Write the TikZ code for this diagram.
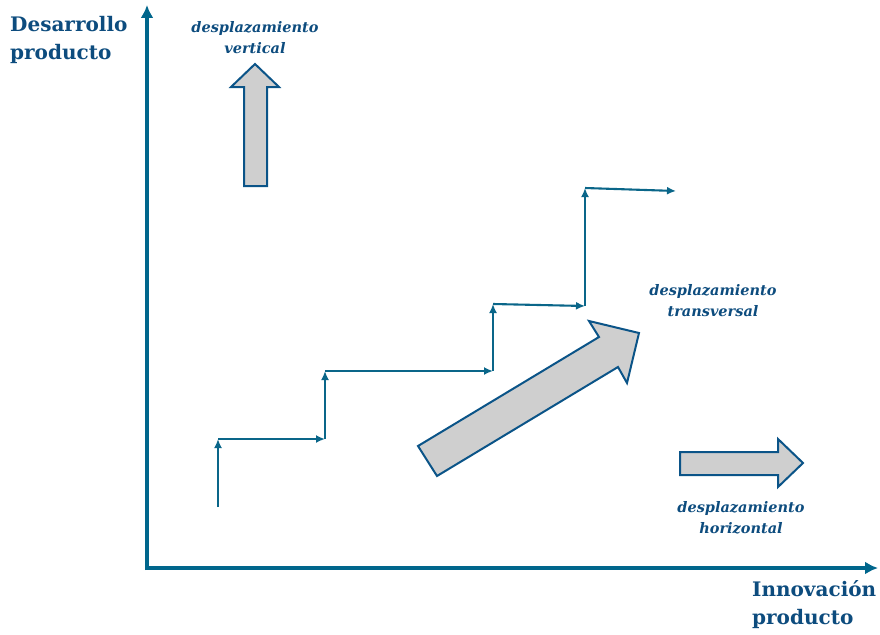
\documentclass[tikz,border=0pt]{standalone}
\usepackage{fontspec}
\setmainfont{DejaVu Serif}
\usetikzlibrary{arrows.meta,positioning}
\definecolor{labelblue}{HTML}{0D4C7E}
\definecolor{axisblue}{HTML}{00668C}
\definecolor{stairblue}{HTML}{0A6689}
\definecolor{shiftgray}{HTML}{CFCFCF}
\definecolor{shiftedge}{HTML}{0B5488}

\begin{document}
\begin{tikzpicture}[
    x=1pt, y=-1pt,
    axisline/.style={-{Latex[length=13pt,width=13pt]}, line width=3.5pt, draw=axisblue},
    stair/.style={-{Latex[length=9pt,width=8pt]}, line width=2.1pt, draw=stairblue},
    blockarrow/.style={draw=shiftedge, fill=shiftgray, line width=2pt, line join=miter},
    axislabel/.style={font=\bfseries\fontsize{20}{28}\selectfont, text=labelblue, align=left, inner sep=0pt},
    shiftlabel/.style={font=\bfseries\itshape\fontsize{14.5}{21.5}\selectfont, text=labelblue, align=center, inner sep=0pt}
]
\useasboundingbox (0,0) rectangle (880,634);

% axes
\coordinate (yfoot) at (147,570);
\coordinate (ytop) at (147,5);
\coordinate (xfoot) at (145,568);
\coordinate (xend) at (878,568);
\draw[axisline] (yfoot) -- (ytop);
\draw[axisline] (xfoot) -- (xend);

\node[axislabel, anchor=north west] (ylabel) at (10,16) {Desarrollo\\producto};
\node[axislabel, anchor=north west] (xlabel) at (752,580) {Innovación\\producto};

% staircase
\coordinate (s0) at (218,507);
\coordinate (s1) at (218,439);
\coordinate (s2) at (325,439);
\coordinate (s3) at (325,371);
\coordinate (s4) at (493,371);
\coordinate (s5) at (493,304);
\coordinate (s6) at (585,306);
\coordinate (s7) at (585,188);
\coordinate (s8) at (676,191);
\foreach \a/\b in {0/1,1/2,2/3,3/4,4/5,5/6,6/7,7/8}
  \draw[stair] (s\a) -- (s\b);

% block arrows
\draw[blockarrow] (244,186) -- (244,87) -- (231,87) -- (255,64) -- (279,87) -- (267,87) -- (267,186) -- cycle;
\draw[blockarrow] (680,452) -- (778,452) -- (778,439) -- (803,463) -- (778,487) -- (778,475) -- (680,475) -- cycle;
\draw[blockarrow] (418,446) -- (599,337) -- (589,321) -- (639,333) -- (627,383) -- (618,367) -- (437,476) -- cycle;

\node[shiftlabel, anchor=north] (vtag) at (255,21) {desplazamiento\\vertical};
\node[shiftlabel, anchor=north] (ttag) at (713,284) {desplazamiento\\transversal};
\node[shiftlabel, anchor=north] (htag) at (741,501) {desplazamiento\\horizontal};
\end{tikzpicture}
\end{document}
